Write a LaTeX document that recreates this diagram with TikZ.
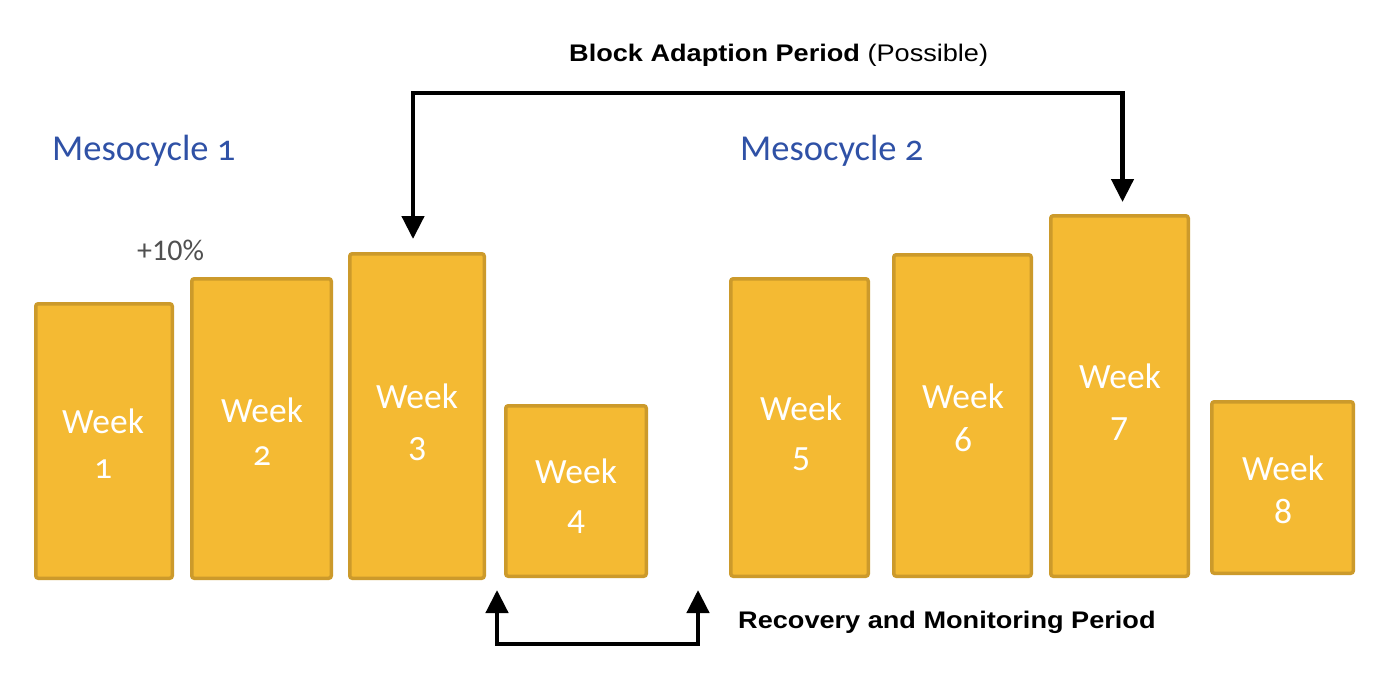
\documentclass[tikz,border=0pt]{standalone}
\usepackage{fontspec}
\setmainfont{Carlito}
\newfontfamily\carold[Numbers=OldStyle]{Carlito}
\newfontfamily\arialx[FakeStretch=1.13]{Liberation Sans}
\usetikzlibrary{arrows.meta}
\definecolor{barfill}{HTML}{F4BA33}
\definecolor{barline}{HTML}{CC9A2B}
\definecolor{mesoblue}{HTML}{2F51A6}
\definecolor{pctgray}{HTML}{505050}
\tikzset{
  bar/.style={draw=barline, fill=barfill, line width=3.5pt, rounded corners=2.5pt, inner sep=0pt},
  wk/.style={text=white, font=\fontsize{35.5}{40}\selectfont, anchor=base, inner sep=0pt},
  meso/.style={text=mesoblue, font=\fontsize{36.5}{42}\selectfont, anchor=base west, inner sep=0pt},
  note/.style={text=black, font=\arialx\fontsize{24}{28}\selectfont, anchor=base west, inner sep=0pt},
  tip/.tip={Triangle[length=23pt,width=22pt]},
  conn/.style={line width=4.5pt, tip-tip, line join=miter}
}
\begin{document}
\begin{tikzpicture}[x=1pt,y=-1pt]
\useasboundingbox[fill=white] (0,0) rectangle (1391,677);

% bars
\node[bar, minimum width=136.5pt, minimum height=274.5pt] (w1) at (104,441) {};
\node[bar, minimum width=139.5pt, minimum height=299.5pt] (w2) at (261.5,428.5) {};
\node[bar, minimum width=134.5pt, minimum height=324.5pt] (w3) at (417,416) {};
\node[bar, minimum width=140.5pt, minimum height=170.5pt] (w4) at (576,491) {};
\node[bar, minimum width=137.5pt, minimum height=297.5pt] (w5) at (799.5,427.5) {};
\node[bar, minimum width=137.5pt, minimum height=321.5pt] (w6) at (962.5,415.5) {};
\node[bar, minimum width=137.5pt, minimum height=360.5pt] (w7) at (1119.5,396) {};
\node[bar, minimum width=141.5pt, minimum height=171.5pt] (w8) at (1282.5,487.5) {};

% bar texts
\node[wk] (t1a) at (103,433) {Week};
\node[wk] (t1b) at (103,478) {\carold 1};
\node[wk] (t2a) at (262,422) {Week};
\node[wk] (t2b) at (262,465) {\carold 2};
\node[wk] (t3a) at (417,408) {Week};
\node[wk] (t3b) at (417,460) {3};
\node[wk] (t4a) at (576,483) {Week};
\node[wk] (t4b) at (576,533) {4};
\node[wk] (t5a) at (801,420) {Week};
\node[wk] (t5b) at (801,470) {5};
\node[wk] (t6a) at (963,408) {Week};
\node[wk] (t6b) at (963,451) {6};
\node[wk] (t7a) at (1120,388) {Week};
\node[wk] (t7b) at (1119,440) {7};
\node[wk] (t8a) at (1283,480) {Week};
\node[wk] (t8b) at (1283,523) {8};

% headings
\node[meso] (m1) at (52,160) {Mesocycle {\carold 1}};
\node[meso] (m2) at (740,160) {Mesocycle {\carold 2}};
\node[anchor=base west, inner sep=0pt, text=pctgray, font=\fontsize{30}{34}\selectfont] (pct) at (137,260) {+10\%};

\node[note] (block) at (569,61) {\textbf{Block Adaption Period} (Possible)};
\node[note] (recov) at (738,628) {\textbf{Recovery and Monitoring Period}};

% top connector
\coordinate (a3) at ([xshift=-4pt,yshift=13pt]w3.north);
\coordinate (a7) at ([xshift=3pt,yshift=12pt]w7.north);
\coordinate (topy) at (0,93);
\draw[conn] (a3) -- (a3 |- topy) -- (a7 |- topy) -- (a7);

% bottom connector
\coordinate (b4) at ([xshift=-7pt,yshift=-12pt]w4.south west);
\coordinate (b5) at ([xshift=-31pt,yshift=-12pt]w5.south west);
\coordinate (boty) at (0,644);
\draw[conn] (b4) -- (b4 |- boty) -- (b5 |- boty) -- (b5);
\end{tikzpicture}
\end{document}
